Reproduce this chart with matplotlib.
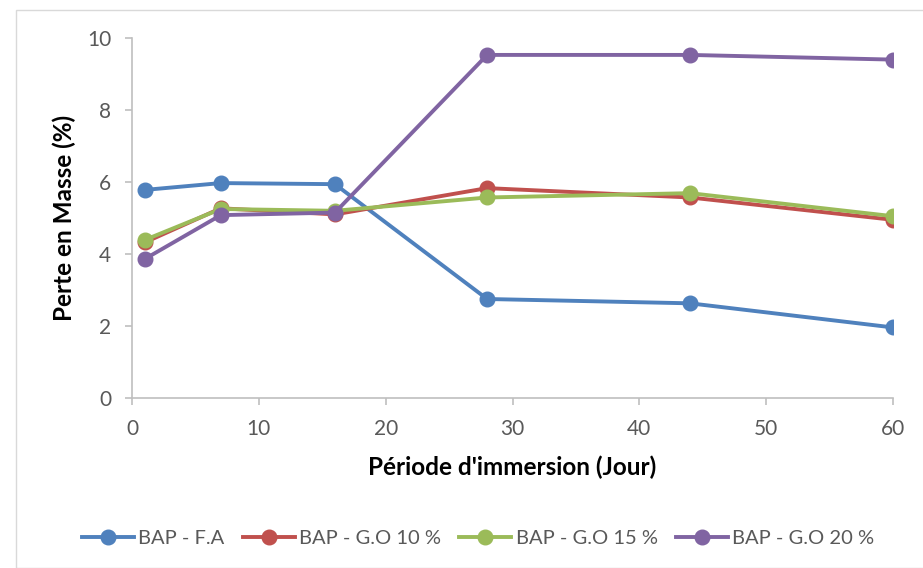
import matplotlib.pyplot as plt
from matplotlib.patches import Rectangle

plt.rcParams['font.family'] = ['Lato', 'DejaVu Sans']

jours = [1, 7, 16, 28, 44, 60]
fa = [5.78, 5.97, 5.94, 2.75, 2.63, 1.96]
go10 = [4.32, 5.27, 5.10, 5.83, 5.57, 4.95]
go15 = [4.39, 5.25, 5.20, 5.57, 5.69, 5.05]
go20 = [3.86, 5.08, 5.15, 9.53, 9.53, 9.40]

series = [
    ('BAP - F.A', fa, '#4F81BD'),
    ('BAP - G.O 10 %', go10, '#C0504D'),
    ('BAP - G.O 15 %', go15, '#9BBB59'),
    ('BAP - G.O 20 %', go20, '#8064A2'),
]

fig = plt.figure(figsize=(9.23, 5.68), dpi=100)
fig.patches.append(Rectangle((16 / 923, 0), 1, 1 - 10 / 568, transform=fig.transFigure,
                             fill=False, edgecolor='#D9D9D9', linewidth=1))
ax = fig.add_axes([132 / 923, 1 - 398 / 568, (893 - 132) / 923, (398 - 38) / 568])

for label, vals, color in series:
    ax.plot(jours, vals, color=color, linewidth=2.8, marker='o', markersize=10.5, label=label)

ax.set_xlim(0, 60)
ax.set_ylim(0, 10)
ax.set_xticks(range(0, 61, 10))
ax.set_yticks(range(0, 11, 2))
for s in ['top', 'right']:
    ax.spines[s].set_visible(False)
for s in ['left', 'bottom']:
    ax.spines[s].set_color('#BFBFBF')
    ax.spines[s].set_linewidth(1.2)
ax.tick_params(colors='#BFBFBF', labelcolor='#595959', labelsize=15, length=5, width=1.2)
ax.tick_params(axis='y', pad=10)
ax.tick_params(axis='x', pad=10)

ax.set_xlabel("Période d'immersion (Jour)", fontsize=17.5, fontweight='bold', labelpad=12)
ax.set_ylabel('Perte en Masse (%)', fontsize=17.5, fontweight='bold', labelpad=8)

fig.legend(*ax.get_legend_handles_labels(), loc='center', bbox_to_anchor=(478 / 923, 1 - 538 / 568),
           ncol=4, frameon=False, fontsize=14.5, handlelength=2.6, handletextpad=0.2,
           columnspacing=0.9, labelcolor='#595959')

fig.savefig('out.png', dpi=100)
plt.close(fig)
